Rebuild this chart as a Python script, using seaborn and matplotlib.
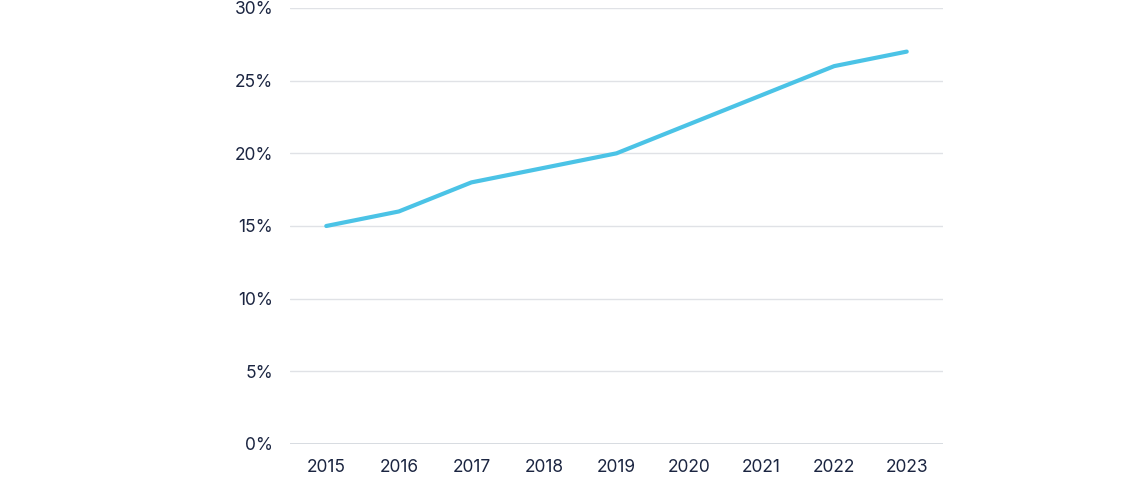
import matplotlib
matplotlib.use("Agg")
import matplotlib.pyplot as plt
import seaborn as sns
import pandas as pd
from matplotlib.ticker import FuncFormatter

years = ["2015", "2016", "2017", "2018", "2019", "2020", "2021", "2022", "2023"]
values = [15, 16, 18, 19, 20, 22, 24, 26, 27]
yticks = [0, 5, 10, 15, 20, 25, 30]

df = pd.DataFrame({"year": years, "value": values})

sns.set_theme(style="white")
plt.rcParams["font.family"] = ["Inter", "DejaVu Sans"]

fig = plt.figure(figsize=(11.22, 4.87), dpi=100)
ax = fig.add_axes([290/1122, 1-444/487, (943-290)/1122, (444-8)/487])

sns.lineplot(data=df, x="year", y="value", ax=ax, color="#4BC3E6", linewidth=3, sort=False)

ax.set_ylim(0, 30)
ax.set_yticks(yticks)
ax.yaxis.set_major_formatter(FuncFormatter(lambda v, p: f"{int(v)}%"))
ax.set_xlim(-0.5, len(years) - 0.5)
ax.grid(axis="y", color="#e0e2e6", linewidth=1)
ax.grid(axis="x", visible=False)
for s in ax.spines.values():
    s.set_visible(False)
ax.axhline(0, color="#d0d4dc", linewidth=1.2, zorder=0)
ax.set_xlabel("")
ax.set_ylabel("")
ax.tick_params(axis="both", length=0, labelsize=12.5, colors="#1b2541")
ax.tick_params(axis="y", pad=12)
ax.tick_params(axis="x", pad=11)

fig.savefig("out.png", dpi=100)
